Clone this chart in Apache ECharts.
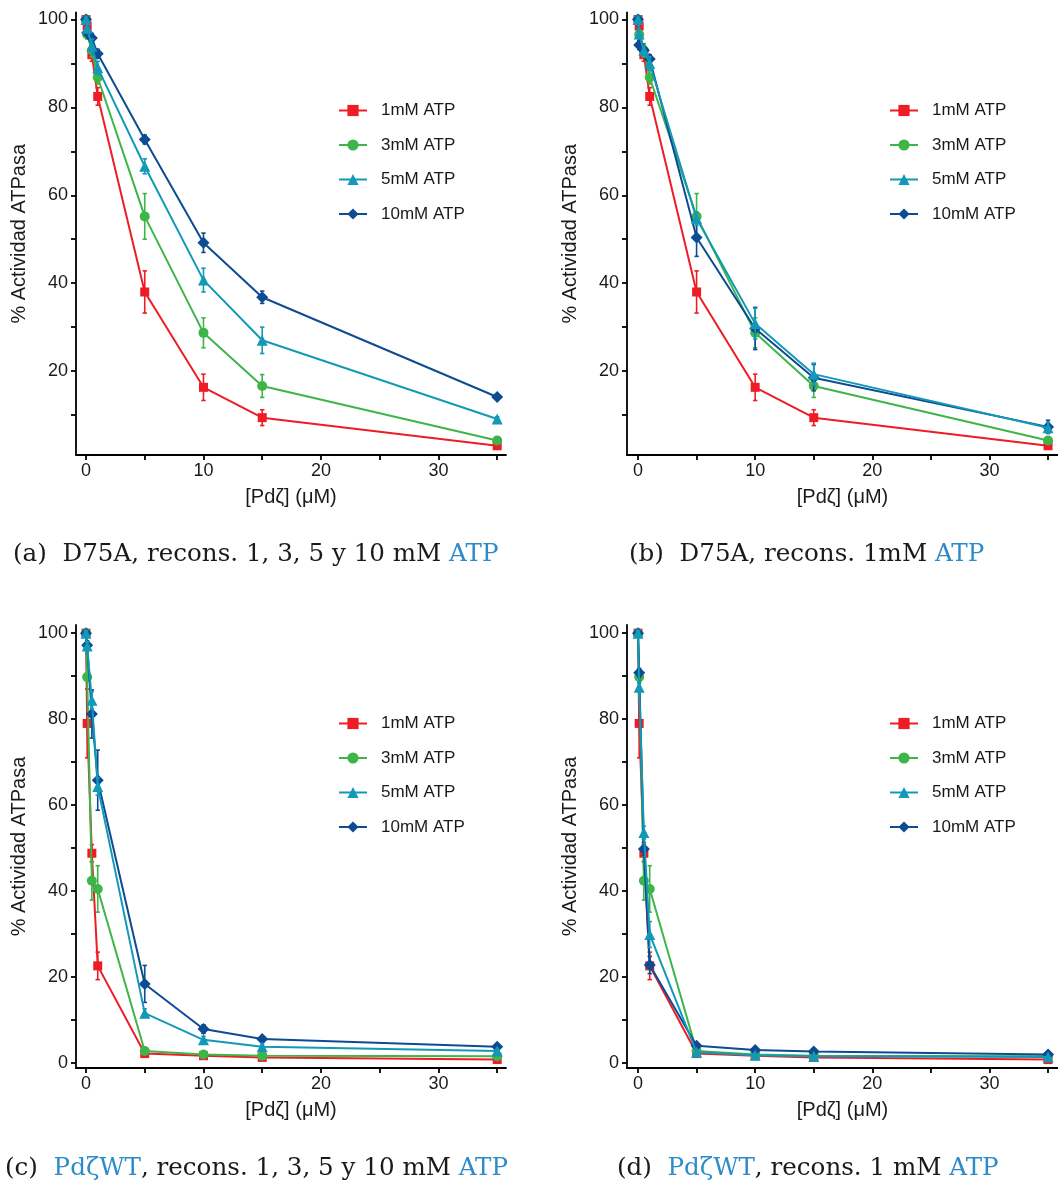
<!DOCTYPE html>
<html>
<head>
<meta charset="utf-8">
<script src="https://cdn.jsdelivr.net/npm/echarts@6/dist/echarts.min.js"></script>
<style>
  html, body { margin: 0; padding: 0; background: #ffffff; }
  #chart { width: 1058px; height: 1185px; }
</style>
</head>
<body>
<div id="chart"></div>
<script>
// [Pdζ] concentrations (µM) shared by every series
const concPdz = [0, 0.1, 0.5, 1, 5, 10, 15, 35];
const seriesNames = ['1mM ATP', '3mM ATP', '5mM ATP', '10mM ATP'];

// x / y tick positions and labels
const xTickValues = [0, 5, 10, 15, 20, 25, 30, 35];
const xLabelValues = [0, 10, 20, 30];
const yTickTop = [10, 20, 30, 40, 50, 60, 70, 80, 90, 100];
const yLabelTop = [20, 40, 60, 80, 100];
const yTickBottom = [0, 10, 20, 30, 40, 50, 60, 70, 80, 90, 100];
const yLabelBottom = [0, 20, 40, 60, 80, 100];

// (a) D75A, 1, 3, 5 and 10 mM ATP — mean % activity and error
const d75aMix1mM = [100, 98.5, 92, 82.5, 38, 16.3, 9.4, 3.0];
const d75aMix1mMErr = [0.5, 1, 1.5, 2, 4.8, 3, 1.8, 0.5];
const d75aMix3mM = [100, 96.6, 93, 86.8, 55.2, 28.7, 16.6, 4.2];
const d75aMix3mMErr = [0.5, 1, 1.5, 1.5, 5.2, 3.4, 2.6, 0.5];
const d75aMix5mM = [100, 98, 94, 89, 66.6, 40.7, 27, 9.1];
const d75aMix5mMErr = [0.5, 1, 1.5, 1.5, 1.7, 2.7, 3, 0.5];
const d75aMix10mM = [100, 97, 95.8, 92.2, 72.7, 49.2, 36.8, 14.1];
const d75aMix10mMErr = [0.5, 0.8, 1, 1, 1, 2.2, 1.4, 0.5];

// (b) D75A, reconstituted at 1 mM ATP
const d75aRec1mM = [100, 98.5, 92, 82.5, 38, 16.3, 9.4, 3.0];
const d75aRec1mMErr = [0.5, 1, 1.5, 2, 4.8, 3, 1.8, 0.5];
const d75aRec3mM = [100, 96.6, 93, 86.8, 55.2, 28.7, 16.6, 4.2];
const d75aRec3mMErr = [0.5, 1, 1.5, 1.5, 5.2, 3.4, 2.6, 0.5];
const d75aRec5mM = [100, 96.7, 93, 90, 54.7, 30.8, 19.3, 7.1];
const d75aRec5mMErr = [0.5, 1, 1, 1.5, 1.5, 3.5, 2.5, 1.2];
const d75aRec10mM = [100, 94.2, 93, 91, 50.4, 29.7, 18.5, 7.3];
const d75aRec10mMErr = [0.5, 1, 1, 1, 4.3, 4.8, 3, 1.5];

// (c) PdζWT, 1, 3, 5 and 10 mM ATP
const wtMix1mM = [100, 79, 48.8, 22.6, 2.2, 1.7, 1.3, 0.8];
const wtMix1mMErr = [0.5, 8, 2, 3.2, 0.5, 0.4, 0.4, 0.3];
const wtMix3mM = [100, 89.8, 42.4, 40.5, 2.8, 2.0, 1.7, 1.6];
const wtMix3mMErr = [0.5, 1, 4.5, 5.4, 0.5, 0.4, 0.4, 0.3];
const wtMix5mM = [100, 97, 84.4, 64.3, 11.6, 5.4, 3.8, 2.8];
const wtMix5mMErr = [0.5, 1, 2, 2, 1, 0.8, 0.5, 0.4];
const wtMix10mM = [100, 97.2, 81.2, 65.8, 18.4, 7.9, 5.6, 3.8];
const wtMix10mMErr = [0.5, 1, 5.6, 7, 4.3, 1, 0.6, 0.4];

// (d) PdζWT, reconstituted at 1 mM ATP
const wtRec1mM = [100, 79, 48.8, 22.6, 2.2, 1.7, 1.3, 0.8];
const wtRec1mMErr = [0.5, 8, 2, 3.2, 0.5, 0.4, 0.4, 0.3];
const wtRec3mM = [100, 89.8, 42.4, 40.5, 2.8, 2.0, 1.7, 1.6];
const wtRec3mMErr = [0.5, 1, 4.5, 5.4, 0.5, 0.4, 0.4, 0.3];
const wtRec5mM = [100, 87.4, 53.6, 29.9, 2.5, 1.8, 1.6, 1.4];
const wtRec5mMErr = [0.5, 1, 1.5, 3, 0.5, 0.4, 0.3, 0.3];
const wtRec10mM = [100, 90.8, 49.8, 22.8, 4.0, 3.0, 2.7, 2.0];
const wtRec10mMErr = [0.5, 1, 1.5, 2, 0.5, 0.4, 0.4, 0.3];

const colors = ['#ee1c25', '#3db549', '#1399b8', '#0d4b92'];
const symbols = ['rect', 'circle', 'triangle', 'diamond'];
const symbolSizes = [9, 10, 11, 12];
const SANS = 'Liberation Sans, Arial, sans-serif';
const SERIF = 'DejaVu Serif, Liberation Serif, serif';

const panels = [
  { grid: { left: 76, top: 12.5, width: 430, height: 442.5 }, x: [-0.85, 35.75], y: [0.9, 101.6], lower: false,
    values: [d75aMix1mM, d75aMix3mM, d75aMix5mM, d75aMix10mM],
    errs: [d75aMix1mMErr, d75aMix3mMErr, d75aMix5mMErr, d75aMix10mMErr], legend: { left: 338, top: 102 } },
  { grid: { left: 627, top: 12.5, width: 431, height: 442.5 }, x: [-0.94, 35.85], y: [0.9, 101.6], lower: false,
    values: [d75aRec1mM, d75aRec3mM, d75aRec5mM, d75aRec10mM],
    errs: [d75aRec1mMErr, d75aRec3mMErr, d75aRec5mMErr, d75aRec10mMErr], legend: { left: 889, top: 102 } },
  { grid: { left: 76, top: 625, width: 430, height: 443 }, x: [-0.85, 35.75], y: [-1.16, 101.9], lower: true,
    values: [wtMix1mM, wtMix3mM, wtMix5mM, wtMix10mM],
    errs: [wtMix1mMErr, wtMix3mMErr, wtMix5mMErr, wtMix10mMErr], legend: { left: 338, top: 715 } },
  { grid: { left: 627, top: 625, width: 431, height: 443 }, x: [-0.94, 35.85], y: [-1.16, 101.9], lower: true,
    values: [wtRec1mM, wtRec3mM, wtRec5mM, wtRec10mM],
    errs: [wtRec1mMErr, wtRec3mMErr, wtRec5mMErr, wtRec10mMErr], legend: { left: 889, top: 715 } }
];

const axisLineStyle = { color: '#000', width: 1.8 };
const grids = [], xAxes = [], yAxes = [], series = [], legends = [];

// draw order: red, green, dark blue, cyan on top
const drawOrder = [0, 1, 3, 2];

panels.forEach((p, pi) => {
  grids.push(Object.assign({ containLabel: false }, p.grid));
  xAxes.push({
    type: 'value', gridIndex: pi, min: p.x[0], max: p.x[1],
    name: '[Pdζ] (μM)', nameLocation: 'middle', nameGap: 32,
    nameTextStyle: { fontFamily: SANS, fontSize: 20, color: '#1a1a1a' },
    axisLine: { show: true, onZero: false, lineStyle: axisLineStyle },
    axisTick: { show: true, length: 5, lineStyle: axisLineStyle, customValues: xTickValues },
    axisLabel: { fontFamily: SANS, fontSize: 18, color: '#1a1a1a', margin: 7, customValues: xLabelValues },
    splitLine: { show: false }
  });
  yAxes.push({
    type: 'value', gridIndex: pi, min: p.y[0], max: p.y[1],
    name: '% Actividad ATPasa', nameLocation: 'middle', nameGap: 47,
    nameTextStyle: { fontFamily: SANS, fontSize: 20, color: '#1a1a1a' },
    axisLine: { show: true, onZero: false, lineStyle: axisLineStyle },
    axisTick: { show: true, length: 5, lineStyle: axisLineStyle, customValues: p.lower ? yTickBottom : yTickTop },
    axisLabel: { fontFamily: SANS, fontSize: 18, color: '#1a1a1a', margin: 8, customValues: p.lower ? yLabelBottom : yLabelTop },
    splitLine: { show: false }
  });
  legends.push({
    data: seriesNames, orient: 'vertical', left: p.legend.left, top: p.legend.top,
    padding: 0, itemWidth: 28, itemHeight: 14, itemGap: 17.5, selectedMode: false,
    textStyle: { fontFamily: SANS, fontSize: 17, color: '#1a1a1a', padding: [0, 0, 0, 9] }
  });
  drawOrder.forEach((si, k) => {
    const vals = p.values[si], errs = p.errs[si];
    series.push({
      type: 'custom', name: seriesNames[si] + ' error', xAxisIndex: pi, yAxisIndex: pi,
      z: 2 + k, silent: true,
      data: concPdz.map((c, i) => [c, vals[i] - errs[i], vals[i] + errs[i]]),
      encode: { x: 0, y: [1, 2] },
      renderItem: (params, api) => {
        const x = api.value(0);
        const top = api.coord([x, api.value(2)]);
        const bot = api.coord([x, api.value(1)]);
        const st = { stroke: colors[si], lineWidth: 1.6 };
        const cw = 2.2;
        return {
          type: 'group', children: [
            { type: 'line', shape: { x1: top[0], y1: top[1], x2: bot[0], y2: bot[1] }, style: st },
            { type: 'line', shape: { x1: top[0] - cw, y1: top[1], x2: top[0] + cw, y2: top[1] }, style: st },
            { type: 'line', shape: { x1: bot[0] - cw, y1: bot[1], x2: bot[0] + cw, y2: bot[1] }, style: st }
          ]
        };
      }
    });
    series.push({
      type: 'line', name: seriesNames[si], xAxisIndex: pi, yAxisIndex: pi,
      z: 2 + k,
      data: concPdz.map((c, i) => [c, vals[i]]),
      symbol: symbols[si], symbolSize: symbolSizes[si], showSymbol: true,
      itemStyle: { color: colors[si] },
      lineStyle: { color: colors[si], width: 2 },
      animation: false
    });
  });
});

const capStyle = {
  fontFamily: SERIF, fontSize: 24.6, fontWeight: 'normal', color: '#1a1a1a',
  rich: { b: { color: '#2e8bc9', fontFamily: SERIF, fontSize: 24.6 } }
};
const titles = [
  { text: '(a)  D75A, recons. 1, 3, 5 y 10 mM {b|ATP}', left: 13, top: 542, padding: 0, textStyle: capStyle },
  { text: '(b)  D75A, recons. 1mM {b|ATP}', left: 629, top: 542, padding: 0, textStyle: capStyle },
  { text: '(c)  {b|PdζWT}, recons. 1, 3, 5 y 10 mM {b|ATP}', left: 5, top: 1156, padding: 0, textStyle: capStyle },
  { text: '(d)  {b|PdζWT}, recons. 1 mM {b|ATP}', left: 617, top: 1156, padding: 0, textStyle: capStyle }
];

const chart = echarts.init(document.getElementById('chart'));
chart.setOption({
  backgroundColor: '#ffffff',
  animation: false,
  title: titles,
  legend: legends,
  grid: grids,
  xAxis: xAxes,
  yAxis: yAxes,
  series: series
});
</script>
</body>
</html>
